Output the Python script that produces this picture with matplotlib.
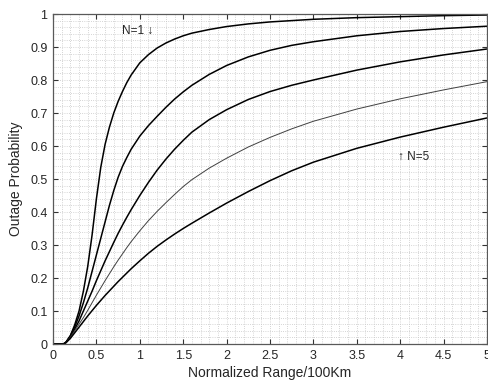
import matplotlib
matplotlib.use("Agg")
import matplotlib.pyplot as plt
import numpy as np

plt.rcParams['font.family'] = ['Liberation Sans', 'DejaVu Sans']

# normalized range (x100 km)
x = [0, 0.1, 0.12, 0.15, 0.2, 0.25, 0.3, 0.35, 0.4, 0.45, 0.5, 0.55, 0.6, 0.65, 0.7, 0.75,
     0.8, 0.85, 0.9, 1.0, 1.1, 1.2, 1.3, 1.4, 1.5, 1.6, 1.8, 2.0, 2.25, 2.5, 2.75, 3.0,
     3.5, 4.0, 4.5, 5.0]

# outage probability, N = 1..5
n1 = [0, 0, 0, 0.006, 0.025, 0.058, 0.10, 0.16, 0.235, 0.33, 0.44, 0.535, 0.605, 0.657, 0.70, 0.735,
      0.765, 0.792, 0.815, 0.852, 0.877, 0.897, 0.912, 0.924, 0.934, 0.942, 0.953, 0.962, 0.97, 0.976,
      0.98, 0.984, 0.989, 0.992, 0.995, 0.997]
n2 = [0, 0, 0, 0.005, 0.025, 0.052, 0.085, 0.125, 0.17, 0.22, 0.27, 0.32, 0.37, 0.42, 0.465, 0.505,
      0.538, 0.565, 0.59, 0.63, 0.662, 0.69, 0.717, 0.742, 0.764, 0.784, 0.817, 0.844, 0.87, 0.89,
      0.905, 0.916, 0.934, 0.947, 0.956, 0.963]
n3 = [0, 0, 0, 0.005, 0.022, 0.045, 0.07, 0.10, 0.13, 0.16, 0.192, 0.222, 0.252, 0.28, 0.308, 0.335,
      0.36, 0.384, 0.407, 0.45, 0.49, 0.527, 0.56, 0.59, 0.617, 0.642, 0.68, 0.71, 0.741, 0.765,
      0.784, 0.80, 0.83, 0.855, 0.876, 0.894]
n4 = [0, 0, 0, 0.005, 0.02, 0.04, 0.06, 0.08, 0.102, 0.125, 0.148, 0.17, 0.192, 0.213, 0.234, 0.254,
      0.273, 0.292, 0.31, 0.343, 0.374, 0.402, 0.428, 0.453, 0.477, 0.498, 0.533, 0.563, 0.597, 0.626,
      0.652, 0.675, 0.712, 0.743, 0.77, 0.795]
n5 = [0, 0, 0, 0.004, 0.017, 0.034, 0.051, 0.068, 0.085, 0.101, 0.117, 0.132, 0.147, 0.161, 0.175, 0.189,
      0.202, 0.215, 0.228, 0.252, 0.275, 0.296, 0.315, 0.333, 0.35, 0.366, 0.397, 0.427, 0.462, 0.495,
      0.525, 0.551, 0.593, 0.627, 0.657, 0.685]

fig = plt.figure(figsize=(4.89, 3.87), dpi=100)
ax = fig.add_axes([0.1084, 0.1111, 0.8875, 0.8527])

ax.plot(x, n1, color='black', linewidth=1.1)
ax.plot(x, n2, color='black', linewidth=1.1)
ax.plot(x, n3, color='black', linewidth=1.1)
ax.plot(x, n4, color='0.25', linewidth=0.7)
ax.plot(x, n5, color='black', linewidth=1.1)

ax.set_xlim(0, 5)
ax.set_ylim(0, 1)
ax.set_xticks(np.arange(0, 5.01, 0.5))
ax.set_yticks(np.arange(0, 1.01, 0.1))
ax.set_xticklabels(['%g' % v for v in np.arange(0, 5.01, 0.5)])
ax.set_yticklabels(['%g' % round(v, 1) for v in np.arange(0, 1.01, 0.1)])
ax.set_xticks(np.arange(0, 5.01, 0.1), minor=True)
ax.set_yticks(np.arange(0, 1.001, 0.02), minor=True)

# MATLAB-ish dotted grid, major and minor
ax.grid(True, which='both', linestyle=':', linewidth=0.6, color='0.78')
ax.tick_params(which='major', direction='in', length=3.5, top=True, right=True,
               labelsize=9, color='0.2', labelcolor='0.15', pad=4)
ax.tick_params(which='minor', length=0)
for s in ax.spines.values():
    s.set_color('0.35')
    s.set_linewidth(0.9)

ax.set_xlabel('Normalized Range/100Km', fontsize=10, color='0.15', labelpad=3)
ax.set_ylabel('Outage Probability', fontsize=10, color='0.15', labelpad=5)

ax.text(0.795, 0.948, 'N=1 \u2193', fontsize=8.5, color='0.15', va='center', ha='left')
ax.text(3.975, 0.567, '\u2191 N=5', fontsize=8.5, color='0.15', va='center', ha='left')

plt.savefig('out.png', dpi=100)
